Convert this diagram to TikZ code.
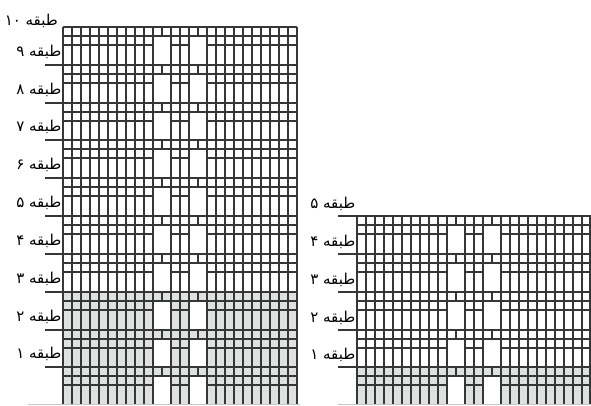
\documentclass[tikz,border=0pt]{standalone}
\usepackage{fontspec}
\newfontfamily\arabicfont[Script=Arabic]{DejaVu Sans}
\TeXXeTstate=1
\definecolor{fcline}{HTML}{363636}
\definecolor{fcfill}{HTML}{DDE1E0}
\tikzset{
  grade/.style={draw=fcline,line width=2pt},
  chao/.style={draw=gray!45,line width=0.5pt},
  sombra/.style={fill=fcfill},
  vao/.style={fill=white},
  rot/.style={font=\arabicfont\fontsize{15}{17}\selectfont,text=black,inner sep=0pt,anchor=base east},
}

\begin{document}
\begin{tikzpicture}[x=1pt,y=-1pt]
  \useasboundingbox (0,0) rectangle (591,405);
  % --- predio alto: 26 modulos de 9, lajes a cada ~37.8
  \fill[sombra] (63,292) rectangle (297,404);
  \foreach \ya/\yb in {301/330,339/367,376/404}
    \fill[vao] (153,\ya) rectangle (171,\yb) (189,\ya) rectangle (207,\yb);
  \foreach \c in {0,...,10,12,13,14,16,17,...,26}
    \draw[grade] ({63+\c*9},27) -- ({63+\c*9},404);
  \foreach \y in {27,65,103,140,178,216,254,292,330,367} {
    \draw[grade] (63,\y) -- (297,\y);
    \draw[grade] (63,{\y+9}) -- (297,{\y+9});
    \draw[grade] (63,{\y+18}) -- (153,{\y+18}) (171,{\y+18}) -- (189,{\y+18})
                 (207,{\y+18}) -- (297,{\y+18});
    \draw[grade] (162,\y) -- (162,{\y+9}) (198,\y) -- (198,{\y+9});   % montante curto
  }
  \foreach \y in {65,103,140,178,216,254,292,330,367}
    \draw[grade] (45,\y) -- (63,\y);
  \draw[chao] (28,404) -- (300,404);
  % rotulos dos pavimentos
  \node[rot] (t10) at (58,25) {\beginR طبقه ۱۰\endR};
  \node[rot] (t9) at (61.5,56) {\beginR طبقه ۹\endR};
  \node[rot] (t8) at (61.5,94) {\beginR طبقه ۸\endR};
  \node[rot] (t7) at (61.5,131) {\beginR طبقه ۷\endR};
  \node[rot] (t6) at (61.5,169) {\beginR طبقه ۶\endR};
  \node[rot] (t5) at (61.5,207) {\beginR طبقه ۵\endR};
  \node[rot] (t4) at (61.5,245) {\beginR طبقه ۴\endR};
  \node[rot] (t3) at (61.5,283) {\beginR طبقه ۳\endR};
  \node[rot] (t2) at (61.5,321) {\beginR طبقه ۲\endR};
  \node[rot] (t1) at (61.5,358) {\beginR طبقه ۱\endR};
  % --- predio baixo: mesmos modulos, 5 pavimentos
  \fill[sombra] (357,367) rectangle (591,404);
  \fill[vao] (447,376) rectangle (465,404) (483,376) rectangle (501,404);
  \foreach \c in {0,...,10,12,13,14,16,17,...,25}
    \draw[grade] ({357+\c*9},216) -- ({357+\c*9},404);
  \draw[grade] (590,216) -- (590,404);
  \foreach \y in {216,254,292,330,367} {
    \draw[grade] (338,\y) -- (591,\y);
    \draw[grade] (357,{\y+9}) -- (591,{\y+9});
    \draw[grade] (357,{\y+18}) -- (447,{\y+18}) (465,{\y+18}) -- (483,{\y+18})
                 (501,{\y+18}) -- (591,{\y+18});
    \draw[grade] (456,\y) -- (456,{\y+9}) (492,\y) -- (492,{\y+9});
  }
  \draw[chao] (338,404) -- (591,404);
  \node[rot] (r5) at (355.5,208) {\beginR طبقه ۵\endR};
  \node[rot] (r4) at (355.5,246) {\beginR طبقه ۴\endR};
  \node[rot] (r3) at (355.5,284) {\beginR طبقه ۳\endR};
  \node[rot] (r2) at (355.5,322) {\beginR طبقه ۲\endR};
  \node[rot] (r1) at (355.5,359) {\beginR طبقه ۱\endR};
\end{tikzpicture}
\end{document}
